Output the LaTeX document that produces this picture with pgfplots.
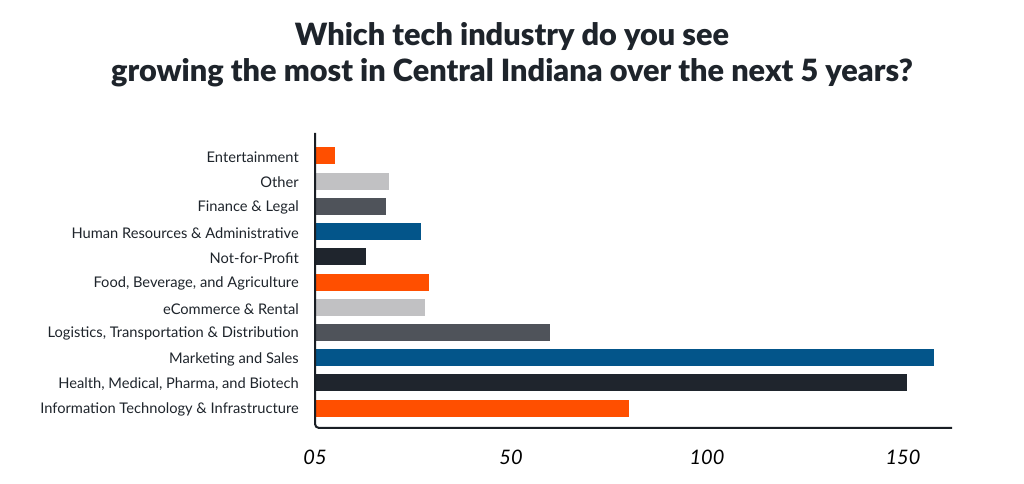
\documentclass[border=0pt]{standalone}
\usepackage{pgfplots}
\pgfplotsset{compat=1.18}
\usepackage{fontspec}
\setmainfont{Lato}
\newfontfamily\titlefont{Lato Black}
\definecolor{cOrange}{HTML}{FF4F00}
\definecolor{cNavy}{HTML}{1F252D}
\definecolor{cBlue}{HTML}{03558A}
\definecolor{cDark}{HTML}{4F535A}
\definecolor{cLight}{HTML}{C1C1C3}
\definecolor{cTitle}{HTML}{1E242B}
\begin{document}
\begin{tikzpicture}[x=0.75pt,y=0.75pt]
\useasboundingbox (0,0) rectangle (1024,484);
\node[anchor=base, font=\fontsize{23}{27}\titlefont, text=cTitle, inner sep=0] at (512,484-46) {Which tech industry do you see};
\node[anchor=base, font=\fontsize{23}{27}\titlefont, text=cTitle, inner sep=0] at (512,484-82) {growing the most in Central Indiana over the next 5 years?};
\begin{axis}[
  at={(315*0.75pt,56*0.75pt)}, anchor=south west,
  scale only axis, width=637*0.75pt, height=295*0.75pt,
  xmin=0, xmax=162.5, ymin=-0.79, ymax=10.91,
  axis lines=left, axis line style={draw=none},
  xbar, bar shift=0pt, bar width=17*0.75pt,
  xtick={0,50,100,150}, xticklabels={05,50,100,150},
  ytick={0,...,10},
  yticklabels={Information Technology \& Infrastructure, {Health, Medical, Pharma, and Biotech}, Marketing and Sales, {Logistics, Transportation \& Distribution}, eCommerce \& Rental, {Food, Beverage, and Agriculture}, Not-for-Profit, Human Resources \& Administrative, Finance \& Legal, Other, Entertainment},
  major tick length=0pt, tick style={draw=none},
  xticklabel style={font=\fontsize{15}{18}\selectfont\itshape, text=black, anchor=base, yshift=-37*0.75pt},
  yticklabel style={font=\fontsize{11}{13}\selectfont, text=cTitle, anchor=east, inner sep=0pt, xshift=-16*0.75pt, yshift=-1.5*0.75pt},
  /pgf/number format/assume math mode=true,
  clip=false,
]
\addplot[fill=cOrange, draw=none] coordinates {(80,0)};
\addplot[fill=cNavy, draw=none] coordinates {(151,1)};
\addplot[fill=cBlue, draw=none] coordinates {(158,2)};
\addplot[fill=cDark, draw=none] coordinates {(60,3)};
\addplot[fill=cLight, draw=none] coordinates {(28,4)};
\addplot[fill=cOrange, draw=none] coordinates {(29,5)};
\addplot[fill=cNavy, draw=none] coordinates {(13,6)};
\addplot[fill=cBlue, draw=none] coordinates {(27,7)};
\addplot[fill=cDark, draw=none] coordinates {(18,8)};
\addplot[fill=cLight, draw=none] coordinates {(19,9)};
\addplot[fill=cOrange, draw=none] coordinates {(5,10)};
\draw[line width=1.5pt, color=cNavy!80!black, rounded corners=3pt] (rel axis cs:0,1) |- (rel axis cs:1,0);
\end{axis}
\end{tikzpicture}
\end{document}
